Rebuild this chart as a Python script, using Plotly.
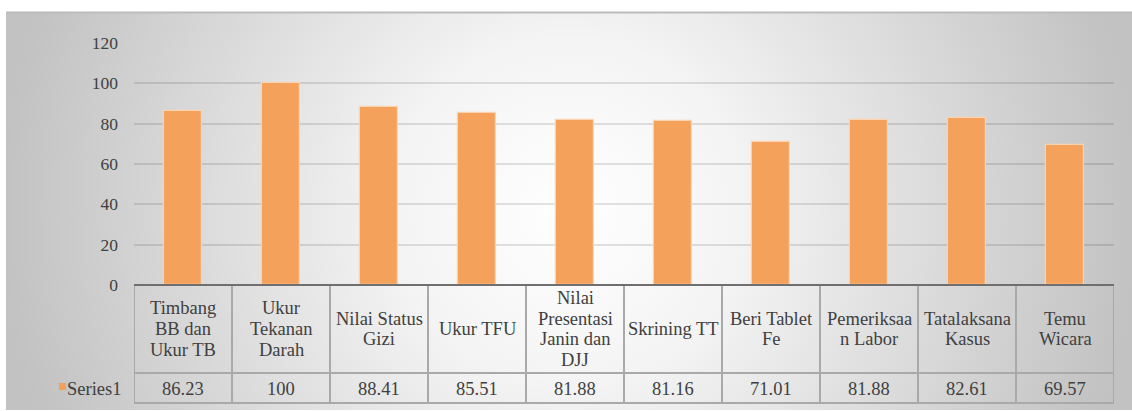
import base64
import plotly.graph_objects as go

# ---- data ----
categories = [
    "Timbang\nBB dan\nUkur TB",
    "Ukur\nTekanan\nDarah",
    "Nilai Status\nGizi",
    "Ukur TFU",
    "Nilai\nPresentasi\nJanin dan\nDJJ",
    "Skrining TT",
    "Beri Tablet\nFe",
    "Pemeriksaa\nn Labor",
    "Tatalaksana\nKasus",
    "Temu\nWicara",
]
series_name = "Series1"
values = [86.23, 100, 88.41, 85.51, 81.88, 81.16, 71.01, 81.88, 82.61, 69.57]
y_ticks = [0, 20, 40, 60, 80, 100, 120]

# ---- layout constants (pixels) ----
W, H = 1132, 411
L, R, T, B = 134, 18, 43, 126
PW, PH = W - L - R, H - T - B
CAT_W = PW / len(categories)

BAR_COLOR = "#F4A25B"
GRID_COLOR = "#a9a9a9"
TEXT_COLOR = "#404040"
FONT = "Liberation Serif"
FS = 18.5
TICK_FS = 17.5


def py(p):
    """pixel row -> paper y"""
    return 1 - (p - T) / PH


def px(p):
    """pixel column -> paper x"""
    return (p - L) / PW


def cx(p):
    """pixel column -> category axis x"""
    return -0.5 + (p - L) / CAT_W


fig = go.Figure()
fig.add_trace(go.Bar(
    x=list(range(len(values))),
    y=values,
    name=series_name,
    width=0.39,
    marker=dict(color=BAR_COLOR, line=dict(color="#fbd3ae", width=1.2)),
    hoverinfo="skip",
))

# radial gradient backdrop of the chart area
bg_w, bg_h = W - 6, H - 13
svg = (
    f'<svg xmlns="http://www.w3.org/2000/svg" width="{bg_w}" height="{bg_h}">'
    '<defs><radialGradient id="g" gradientUnits="userSpaceOnUse" '
    f'cx="{bg_w/2}" cy="{bg_h/2}" r="{bg_w/2 + 5}">'
    '<stop offset="0" stop-color="#ffffff"/>'
    '<stop offset="0.3" stop-color="#f4f4f4"/>'
    '<stop offset="1" stop-color="#c2c2c2"/>'
    '</radialGradient></defs>'
    f'<rect width="{bg_w}" height="{bg_h}" fill="url(#g)"/></svg>'
)
src = "data:image/svg+xml;base64," + base64.b64encode(svg.encode()).decode()

shapes = []
annotations = []

# top edge of the chart area
shapes.append(dict(type="line", xref="paper", yref="paper",
                   x0=px(6), x1=px(W), y0=py(12.5), y1=py(12.5),
                   line=dict(color="#bcbcbc", width=2)))

# data table grid
TOP, MID, BOT = 285, 373, 403
left_cell = cx(52)
n = len(categories)
for i in range(n + 1):
    shapes.append(dict(type="line", xref="x", yref="paper",
                       x0=i - 0.5, x1=i - 0.5, y0=py(TOP), y1=py(BOT),
                       line=dict(color=GRID_COLOR, width=2)))
for yy in (MID, BOT):
    shapes.append(dict(type="line", xref="x", yref="paper",
                       x0=left_cell, x1=n - 0.5, y0=py(yy), y1=py(yy),
                       line=dict(color=GRID_COLOR, width=2)))
shapes.append(dict(type="line", xref="x", yref="paper",
                   x0=left_cell, x1=left_cell, y0=py(MID), y1=py(BOT),
                   line=dict(color=GRID_COLOR, width=2)))
# category axis line
shapes.append(dict(type="line", xref="x", yref="paper",
                   x0=-0.5, x1=n - 0.5, y0=py(TOP), y1=py(TOP),
                   line=dict(color="#6f6f6f", width=2)))

# header row: category names, one annotation per line
LINE_GAP = 20.7
head_mid = (TOP + MID) / 2
for i, cat in enumerate(categories):
    lines = cat.split("\n")
    k = len(lines)
    for j, ln in enumerate(lines):
        annotations.append(dict(
            xref="x", yref="paper", x=i, y=py(head_mid + (j - (k - 1) / 2) * LINE_GAP),
            text=ln, showarrow=False, xanchor="center", yanchor="middle",
            font=dict(family=FONT, size=FS, color=TEXT_COLOR)))

# value row
val_mid = (MID + BOT) / 2 + 0.5
for i, v in enumerate(values):
    annotations.append(dict(
        xref="x", yref="paper", x=i, y=py(val_mid),
        text=f"{v:g}", showarrow=False, xanchor="center", yanchor="middle",
        font=dict(family=FONT, size=FS, color=TEXT_COLOR)))

# legend key and series name in the row header
shapes.append(dict(type="rect", xref="paper", yref="paper",
                   x0=px(59), x1=px(66), y0=py(390), y1=py(383),
                   fillcolor=BAR_COLOR, line=dict(width=0)))
annotations.append(dict(
    xref="paper", yref="paper", x=px(65), y=py(val_mid),
    text=series_name, showarrow=False, xanchor="left", yanchor="middle",
    font=dict(family=FONT, size=FS, color=TEXT_COLOR)))

fig.update_layout(
    width=W, height=H,
    margin=dict(l=L, r=R, t=T, b=B, pad=0),
    paper_bgcolor="white",
    plot_bgcolor="rgba(0,0,0,0)",
    showlegend=False,
    bargap=0,
    images=[dict(source=src, xref="paper", yref="paper",
                 x=px(6), y=py(12), sizex=bg_w / PW, sizey=bg_h / PH,
                 xanchor="left", yanchor="top", sizing="stretch", layer="below")],
    xaxis=dict(range=[-0.5, n - 0.5], showticklabels=False, showgrid=False,
               zeroline=False, showline=False, fixedrange=True),
    yaxis=dict(range=[0, 120], tickvals=y_ticks, showgrid=True,
               gridcolor="rgba(0,0,0,0.11)", gridwidth=1.5, zeroline=False,
               showline=False, ticks="", ticklabelstandoff=15,
               tickfont=dict(family=FONT, size=TICK_FS, color=TEXT_COLOR)),
    shapes=shapes,
    annotations=annotations,
)

fig.write_html("out.html", config={"displayModeBar": False})
